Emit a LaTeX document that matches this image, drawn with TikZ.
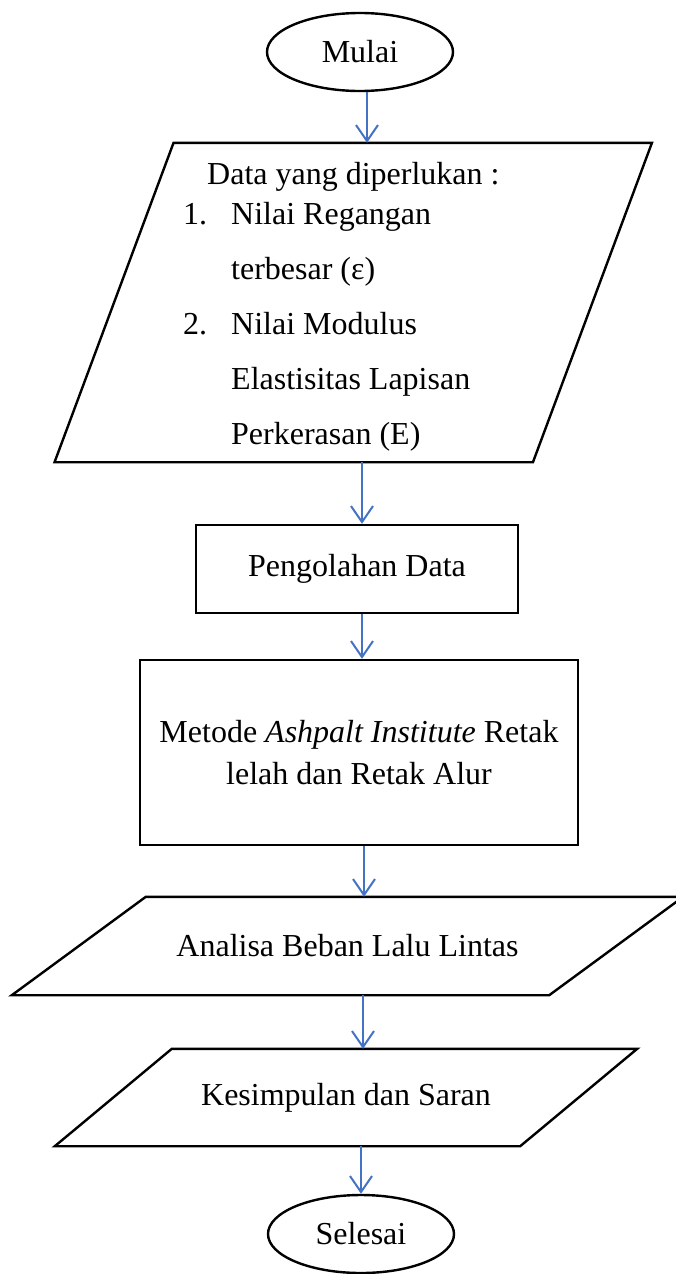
\documentclass[tikz,border=0pt]{standalone}
\usepackage{fontspec}
\setmainfont{Liberation Serif}
\usetikzlibrary{arrows.meta,shapes.geometric}
\definecolor{arrowblue}{RGB}{68,114,196}
\begin{document}
\begin{tikzpicture}[x=1pt,y=-1pt,
  every node/.style={font=\fontsize{32}{42}\selectfont, text=black},
  terminal/.style={ellipse, draw=black, line width=2.4pt, inner sep=0pt, minimum width=186pt, minimum height=78pt},
  process/.style={rectangle, draw=black, line width=2.4pt, inner sep=0pt, align=center},
  iobox/.style={rectangle, inner sep=0pt, align=center},
  ioline/.style={draw=black, line width=2.4pt, line join=miter},
  arr/.style={draw=arrowblue, line width=2pt, -{Straight Barb[length=16pt,width=22pt]}}
]
\useasboundingbox (0,0) rectangle (675,1274);

% Start
\node[terminal] (mulai) at (360,52) {Mulai};

% Input data parallelogram
\node[iobox, minimum width=478pt, minimum height=319pt] (data) at (353.25,302.5) {};
\draw[ioline] ([xshift=59.5pt]data.north west) -- ([xshift=59.5pt]data.north east)
  -- ([xshift=-59.5pt]data.south east) -- ([xshift=-59.5pt]data.south west) -- cycle;
\node[anchor=north west, inner sep=0pt, align=left] (datatext) at (183,162)
  {\hspace*{24pt}Data yang diperlukan :\\[-2pt]
   \makebox[48pt][l]{1.}Nilai Regangan\\[13pt]
   \hspace*{48pt}terbesar (ε)\\[13pt]
   \makebox[48pt][l]{2.}Nilai Modulus\\[13pt]
   \hspace*{48pt}Elastisitas Lapisan\\[13pt]
   \hspace*{48pt}Perkerasan (E)};

% Processing
\node[process, minimum width=322pt, minimum height=88pt] (proc) at (357,569) {Pengolahan Data};

% Method
\node[process, minimum width=438pt, minimum height=185pt] (metode) at (359,752.5)
  {Metode \textit{Ashpalt Institute} Retak\\ lelah dan Retak Alur};

% Traffic load analysis parallelogram
\node[iobox, minimum width=537pt, minimum height=98pt] (analisa) at (347.5,946) {Analisa Beban Lalu Lintas};
\draw[ioline] ([xshift=67pt]analisa.north west) -- ([xshift=67pt]analisa.north east)
  -- ([xshift=-67pt]analisa.south east) -- ([xshift=-67pt]analisa.south west) -- cycle;

% Conclusion parallelogram
\node[iobox, minimum width=465pt, minimum height=97pt] (kesimpulan) at (346,1097.5) {Kesimpulan dan Saran};
\draw[ioline] ([xshift=58.5pt]kesimpulan.north west) -- ([xshift=58.5pt]kesimpulan.north east)
  -- ([xshift=-58.5pt]kesimpulan.south east) -- ([xshift=-58.5pt]kesimpulan.south west) -- cycle;

% End
\node[terminal] (selesai) at (361,1234) {Selesai};

% Connectors
\draw[arr] ([xshift=7pt]mulai.south) -- ([xshift=7pt]mulai.south |- data.north);
\draw[arr] ([xshift=8.75pt]data.south) -- ([xshift=8.75pt]data.south |- proc.north);
\draw[arr] ([xshift=5pt]proc.south) -- ([xshift=5pt]proc.south |- metode.north);
\draw[arr] ([xshift=5pt]metode.south) -- ([xshift=5pt]metode.south |- analisa.north);
\draw[arr] ([xshift=15.5pt]analisa.south) -- ([xshift=15.5pt]analisa.south |- kesimpulan.north);
\draw[arr] ([xshift=15pt]kesimpulan.south) -- (selesai.north);
\end{tikzpicture}
\end{document}
